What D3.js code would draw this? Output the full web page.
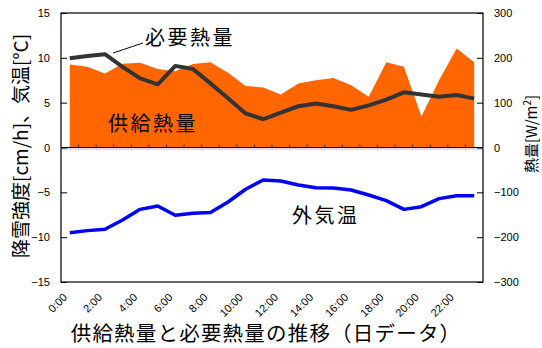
<!DOCTYPE html>
<html>
<head>
<meta charset="utf-8">
<script src="https://cdn.jsdelivr.net/npm/d3@7"></script>
<style>
  body { margin: 0; background: #fff; }
  svg { display: block; }
  .tick-label { font-family: "Liberation Sans", Arial, sans-serif; font-size: 11px; fill: #000; }
  .jp { font-family: "Noto Sans CJK JP", sans-serif; fill: #000; }
</style>
</head>
<body>
<div id="chart"></div>
<script>
// hours of the day (one category per hour)
const hours = d3.range(24).map((h) => h + ":00");

// supplied heat [W/m2] (orange area)
const supplyHeat = [185, 180, 165, 187, 189, 175, 170, 186, 190, 167, 137, 134,
  118, 143, 150, 155, 139, 113, 190, 180, 69, 150, 221, 190];

// required heat [W/m2] (dark line)
const requiredHeat = [199, 204, 208, 180, 154, 141, 182, 175, 143, 110, 76, 63,
  78, 92, 98, 92, 84, 94, 107, 123, 118, 113, 117, 109];

// outside air temperature [°C] (blue line)
const airTemp = [-9.5, -9.27, -9.12, -8.08, -6.9, -6.52, -7.56, -7.34, -7.26, -6.08, -4.66, -3.62,
  -3.73, -4.18, -4.48, -4.51, -4.74, -5.3, -5.93, -6.9, -6.6, -5.7, -5.37, -5.37];

const leftTicks = [-15, -10, -5, 0, 5, 10, 15];
const rightTicks = [-300, -200, -100, 0, 100, 200, 300];

const width = 542, height = 348;
const margin = { top: 13, right: 59, bottom: 66, left: 61 };
const plotW = width - margin.left - margin.right;
const plotH = height - margin.top - margin.bottom;

const svg = d3.select("#chart").append("svg")
  .attr("width", width)
  .attr("height", height);

const g = svg.append("g").attr("transform", `translate(${margin.left},${margin.top})`);

const x = d3.scaleBand().domain(hours).range([0, plotW]).padding(0);
const cx = (d) => x(d) + x.bandwidth() / 2;
const yL = d3.scaleLinear().domain([-15, 15]).range([plotH, 0]);
const yR = d3.scaleLinear().domain([-300, 300]).range([plotH, 0]);

// supplied heat area
const area = d3.area()
  .x((d, i) => cx(hours[i]))
  .y0(yR(0))
  .y1((d) => yR(d));
g.append("path")
  .datum(supplyHeat)
  .attr("fill", "#ff6600")
  .attr("d", area);

// zero line with category ticks
g.append("line")
  .attr("x1", 0).attr("x2", plotW)
  .attr("y1", yL(0) + 1.5).attr("y2", yL(0) + 1.5)
  .attr("stroke", "#bbb").attr("stroke-width", 1);
g.append("line")
  .attr("x1", 0).attr("x2", plotW)
  .attr("y1", yL(0)).attr("y2", yL(0))
  .attr("stroke", "#000").attr("stroke-width", 1);
g.append("g")
  .selectAll("line")
  .data(hours.slice(1))
  .join("line")
  .attr("x1", (d) => x(d)).attr("x2", (d) => x(d))
  .attr("y1", yL(0)).attr("y2", yL(0) - 3)
  .attr("stroke", "#333").attr("stroke-width", 1);

// required heat line
const reqLine = d3.line()
  .x((d, i) => cx(hours[i]))
  .y((d) => yR(d));
g.append("path")
  .datum(requiredHeat)
  .attr("fill", "none")
  .attr("stroke", "#333")
  .attr("stroke-width", 4)
  .attr("stroke-linejoin", "round")
  .attr("d", reqLine);

// outside temperature line
const tempLine = d3.line()
  .x((d, i) => cx(hours[i]))
  .y((d) => yL(d));
g.append("path")
  .datum(airTemp)
  .attr("fill", "none")
  .attr("stroke", "#0000ff")
  .attr("stroke-width", 3.5)
  .attr("stroke-linejoin", "round")
  .attr("d", tempLine);

// frame
g.append("rect")
  .attr("x", 0).attr("y", 0)
  .attr("width", plotW).attr("height", plotH)
  .attr("fill", "none")
  .attr("stroke", "#000").attr("stroke-width", 1.2);

// left axis (ticks inward)
const leftAxis = g.append("g")
  .call(d3.axisLeft(yL).tickValues(leftTicks).tickSize(-6).tickPadding(11));
leftAxis.select(".domain").remove();
leftAxis.selectAll(".tick line").attr("stroke", "#000");
leftAxis.selectAll("text").attr("class", "tick-label").attr("fill", null);

// right axis (ticks inward)
const rightAxis = g.append("g")
  .attr("transform", `translate(${plotW},0)`)
  .call(d3.axisRight(yR).tickValues(rightTicks).tickSize(-6).tickPadding(11));
rightAxis.select(".domain").remove();
rightAxis.selectAll(".tick line").attr("stroke", "#000");
rightAxis.selectAll("text").attr("class", "tick-label").attr("fill", null);

// x labels, every 2 hours, rotated
g.append("g")
  .selectAll("text")
  .data(hours.filter((d, i) => i % 2 === 0))
  .join("text")
  .attr("class", "tick-label")
  .style("font-size", "11px")
  .attr("text-anchor", "end")
  .attr("transform", (d) => `translate(${cx(d) - 2},${plotH + 16}) rotate(-45)`)
  .text((d) => d);

// axis titles
svg.append("text")
  .attr("class", "jp")
  .attr("transform", `translate(28,146) rotate(-90)`)
  .attr("text-anchor", "middle")
  .style("font-size", "19px")
  .text("降雪強度[cm/h]、気温[°C]");

svg.append("text")
  .attr("class", "jp")
  .attr("transform", `translate(537,134) rotate(-90)`)
  .attr("text-anchor", "middle")
  .style("font-size", "15px")
  .html("熱量[W/m<tspan dy='-6' font-size='10px'>2</tspan><tspan dy='6'>]</tspan>");

svg.append("text")
  .attr("class", "jp")
  .attr("x", 266).attr("y", 341)
  .attr("text-anchor", "middle")
  .style("font-size", "20.5px")
  .style("letter-spacing", "1.2px")
  .text("供給熱量と必要熱量の推移（日データ）");

// series annotations
g.append("line")
  .attr("x1", 113 - margin.left).attr("y1", 53 - margin.top)
  .attr("x2", 143 - margin.left).attr("y2", 43 - margin.top)
  .attr("stroke", "#000").attr("stroke-width", 1);

g.append("text").attr("class", "jp")
  .attr("x", 145 - margin.left).attr("y", 45 - margin.top)
  .style("font-size", "20px")
  .style("letter-spacing", "2.5px")
  .text("必要熱量");

g.append("text").attr("class", "jp")
  .attr("x", 108 - margin.left).attr("y", 131 - margin.top)
  .style("font-size", "20px")
  .style("letter-spacing", "2.5px")
  .text("供給熱量");

g.append("text").attr("class", "jp")
  .attr("x", 292 - margin.left).attr("y", 223 - margin.top)
  .style("font-size", "20px")
  .style("letter-spacing", "2.5px")
  .text("外気温");
</script>
</body>
</html>
